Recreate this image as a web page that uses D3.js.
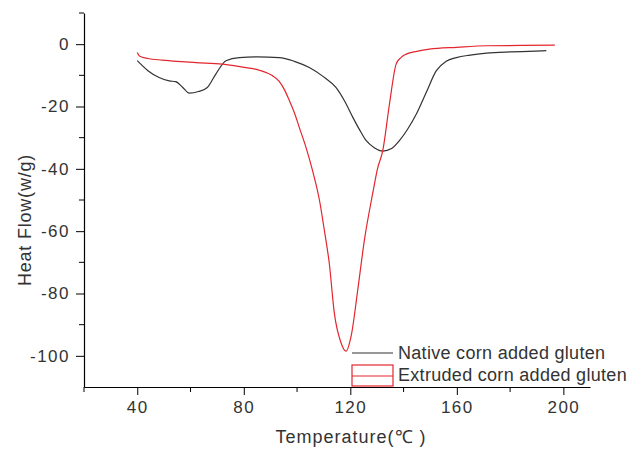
<!DOCTYPE html>
<html>
<head>
<meta charset="utf-8">
<script src="https://cdn.jsdelivr.net/npm/d3@7.8.5/dist/d3.min.js"></script>
<style>
  html, body { margin: 0; padding: 0; background: #fff; }
  svg { display: block; }
  text { font-family: "Liberation Sans", Arial, sans-serif; fill: #333; }
</style>
</head>
<body>
<div id="chart"></div>
<script>
// values
const nativeTemp = [40, 44, 48.2, 52, 54.4, 57, 59.5, 63, 66.3, 69.5, 73.3, 78.3, 85, 93.3, 99, 104.6, 110, 114.6, 118, 120.9, 123.5, 125.9, 129, 132.2, 135.5, 138.5, 141.5, 144.8, 148.5, 152.3, 156, 159.8, 165, 171.1, 180, 187, 193.6];
const nativeHeat = [-5.3, -8.5, -10.7, -11.8, -12, -13.8, -15.7, -15.2, -13.9, -9.6, -5.3, -4.3, -4.1, -4.3, -5.5, -7.5, -10.5, -13.9, -18.5, -23.4, -27.5, -30.9, -33.2, -34.3, -33.5, -30.9, -27.3, -22.4, -15.5, -8.5, -5.5, -4.3, -3.5, -2.9, -2.5, -2.3, -2.1];

const extrudedTemp = [40, 40.8, 44, 49.4, 55, 62, 72, 80.8, 86, 90.5, 93.3, 95.2, 97.1, 99, 100.8, 103.5, 105.8, 108.4, 110.3, 112.1, 114, 116.5, 118.4, 120.3, 122.8, 125.3, 128.4, 130.2, 132.2, 134.7, 137.2, 139, 141, 145, 149.7, 160, 171.1, 185, 196.8];
const extrudedHeat = [-2.7, -3.8, -4.6, -5.1, -5.5, -5.9, -6.4, -7.5, -8.4, -10, -11.9, -14.5, -18.1, -22, -26.6, -33.5, -40.5, -50, -60, -70.3, -86.3, -95.8, -98.5, -93.7, -78.8, -62.8, -47.9, -40, -34.1, -19.2, -6.4, -4.3, -3.2, -2.3, -1.6, -1, -0.5, -0.4, -0.3];

const seriesNames = ['Native corn added gluten', 'Extruded corn added gluten'];
const seriesColors = ['#333333', '#e3262e'];

const xMajor = [40, 80, 120, 160, 200];
const xMinor = [20, 60, 100, 140, 180];
const yMajor = [0, -20, -40, -60, -80, -100];
const yMinor = [10, -10, -30, -50, -70, -90];

const W = 627, H = 449;
const svg = d3.select('#chart').append('svg').attr('width', W).attr('height', H);

const x = d3.scaleLinear().domain([20, 210]).range([84, 590]);
const y = d3.scaleLinear().domain([-110, 10]).range([387, 13]);

// axes
const xAxis = svg.append('g').attr('transform', `translate(0,${y(-110)})`);
xAxis.call(d3.axisBottom(x).tickValues(xMajor).tickFormat(d => String(d))
  .tickSize(8).tickPadding(6).tickSizeOuter(0));
xAxis.append('g').selectAll('line').data(xMinor).enter().append('line')
  .attr('x1', d => x(d)).attr('x2', d => x(d)).attr('y1', 0).attr('y2', 5)
  .attr('stroke', '#000');

const yAxis = svg.append('g').attr('transform', `translate(${x(20)},0)`);
yAxis.call(d3.axisLeft(y).tickValues(yMajor).tickFormat(d => String(d))
  .tickSize(8).tickPadding(6).tickSizeOuter(0));
yAxis.append('g').selectAll('line').data(yMinor).enter().append('line')
  .attr('y1', d => y(d)).attr('y2', d => y(d)).attr('x1', 0).attr('x2', -5)
  .attr('stroke', '#000');

svg.selectAll('.domain').attr('stroke', '#000').attr('stroke-width', 1.2);
svg.selectAll('.tick line').attr('stroke', '#000');
svg.selectAll('.tick text')
  .attr('font-family', '"Liberation Sans", Arial, sans-serif')
  .attr('font-size', 17)
  .attr('letter-spacing', 1.5)
  .attr('fill', '#333');

// axis titles
svg.append('text')
  .attr('x', 351).attr('y', 443)
  .attr('text-anchor', 'middle')
  .attr('font-size', 18).attr('letter-spacing', 1)
  .text('Temperature(℃ )');

svg.append('text')
  .attr('transform', 'translate(31,220) rotate(-90)')
  .attr('text-anchor', 'middle')
  .attr('font-size', 18).attr('letter-spacing', 0.8)
  .text('Heat Flow(w/g)');

// curves
const line = d3.line().x(d => x(d[0])).y(d => y(d[1])).curve(d3.curveMonotoneX);
const curves = [
  d3.zip(nativeTemp, nativeHeat),
  d3.zip(extrudedTemp, extrudedHeat)
];
svg.selectAll('.curve').data(curves).enter().append('path')
  .attr('class', 'curve')
  .attr('d', line)
  .attr('fill', 'none')
  .attr('stroke', (d, i) => seriesColors[i])
  .attr('stroke-width', 1.2);

// legend
const lg = svg.append('g');
lg.append('line').attr('x1', 352).attr('x2', 393).attr('y1', 353).attr('y2', 353)
  .attr('stroke', seriesColors[0]).attr('stroke-width', 1.2);
lg.append('rect').attr('x', 352).attr('y', 365).attr('width', 41).attr('height', 21)
  .attr('fill', 'none').attr('stroke', seriesColors[1]).attr('stroke-width', 1.2);
lg.append('line').attr('x1', 352).attr('x2', 393).attr('y1', 376).attr('y2', 376)
  .attr('stroke', seriesColors[1]).attr('stroke-width', 1.2);
lg.selectAll('text').data(seriesNames).enter().append('text')
  .attr('x', 398).attr('y', (d, i) => 359 + i * 22)
  .attr('font-size', 18).attr('letter-spacing', 0.3)
  .text(d => d);
</script>
</body>
</html>
